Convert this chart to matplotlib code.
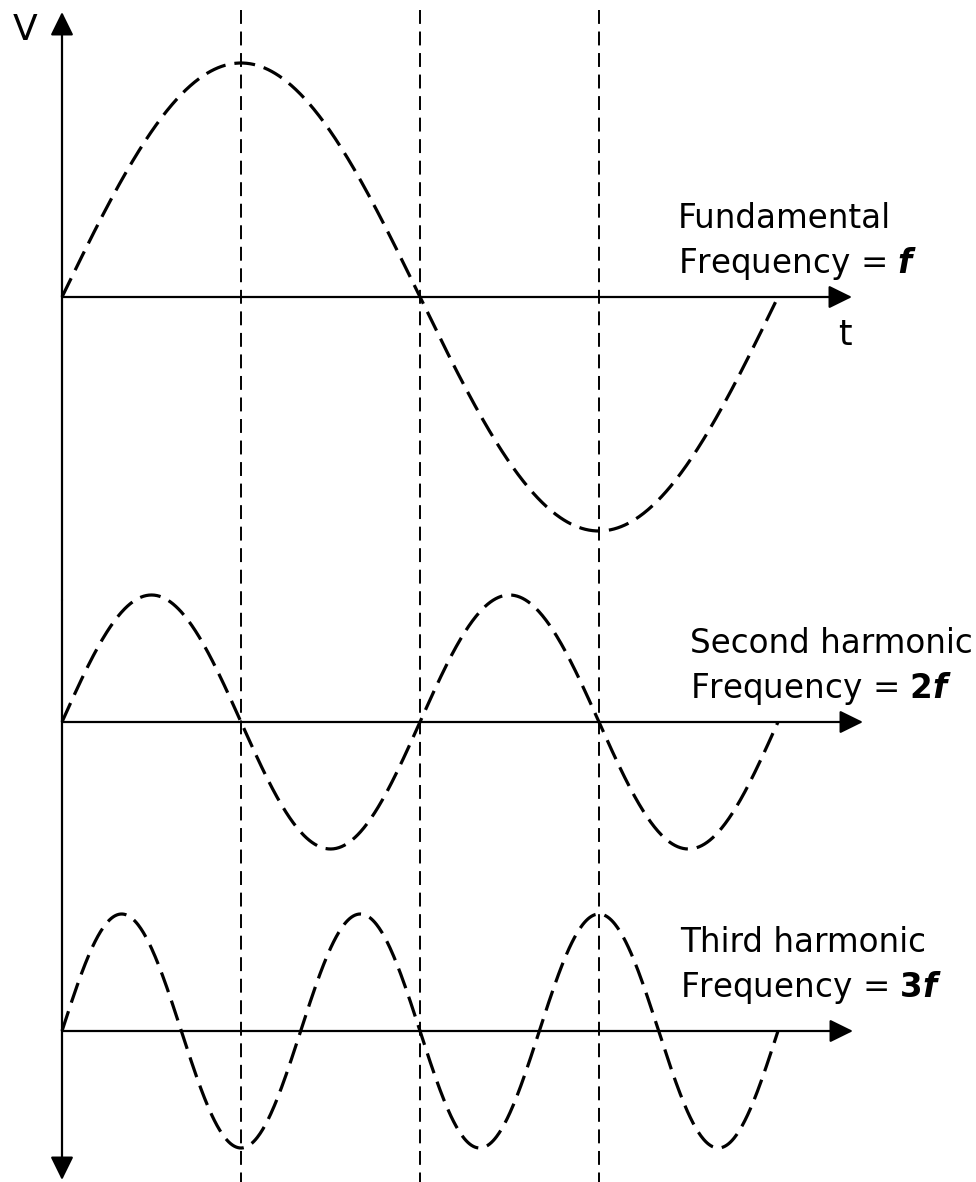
import numpy as np
import matplotlib
matplotlib.use("Agg")
import matplotlib.pyplot as plt

plt.rcParams['font.family'] = ['DejaVu Sans']
plt.rcParams['mathtext.fontset'] = 'dejavusans'
plt.rcParams['lines.scale_dashes'] = False

# ---- data ----
harmonics = [1, 2, 3]                     # multiples of the fundamental frequency
amplitudes = [234, 127, 117]              # peak amplitudes (drawing units)
titles = ["Fundamental", "Second harmonic", "Third harmonic"]
freq_labels = [r"Frequency = $\mathbfit{f}$",
               r"Frequency = $\mathbf{2}\mathbfit{f}$",
               r"Frequency = $\mathbf{3}\mathbfit{f}$"]
markers_t = [0.25, 0.5, 0.75]             # vertical guide lines (fraction of period)
t_end = 1.0                               # one fundamental period

# ---- layout (pixel based) ----
W, H = 976, 1182
x0, period_px = 62, 716
baselines = [297, 722, 1031]
axis_tips = [852, 863, 853]
title_pos = [(678, 228), (690, 653), (680, 952)]
freq_pos = [(678, 273), (690, 698), (680, 997)]

def px2t(px):
    return (px - x0) / period_px

fig = plt.figure(figsize=(W / 100, H / 100), dpi=100)
ax = fig.add_axes([0, 0, 1, 1])
ax.set_xlim(px2t(0), px2t(W))
ax.set_ylim(H, 0)
ax.axis('off')

arrow_kw = dict(arrowstyle='-|>,head_length=0.65,head_width=0.32',
                mutation_scale=22, lw=1.6, color='black',
                shrinkA=0, shrinkB=0)

# vertical V axis (double arrow)
ax.annotate('', xy=(0, 12), xytext=(0, 600), arrowprops=arrow_kw)
ax.annotate('', xy=(0, 1180), xytext=(0, 600), arrowprops=arrow_kw)
ax.text(px2t(25), 40, "V", fontsize=26, ha='center', va='baseline')

# vertical guide lines
for mt in markers_t:
    ax.plot([mt, mt], [10, H], color='black', lw=1.4, dashes=[10, 5.5])

t = np.linspace(0, t_end, 800)
for i, (n, A) in enumerate(zip(harmonics, amplitudes)):
    b = baselines[i]
    # time axis
    ax.annotate('', xy=(px2t(axis_tips[i]), b), xytext=(0, b), arrowprops=arrow_kw)
    # waveform
    ax.plot(t, b - A * np.sin(2 * np.pi * n * t), color='black', lw=2.3,
            dashes=[15, 6.5], solid_capstyle='butt')
    ax.text(px2t(title_pos[i][0]), title_pos[i][1], titles[i],
            fontsize=23.5, ha='left', va='baseline')
    ax.text(px2t(freq_pos[i][0]), freq_pos[i][1], freq_labels[i],
            fontsize=23.5, ha='left', va='baseline')

ax.text(px2t(845), 345, "t", fontsize=25, ha='center', va='baseline')

fig.savefig("out.png", dpi=100, facecolor='white')
